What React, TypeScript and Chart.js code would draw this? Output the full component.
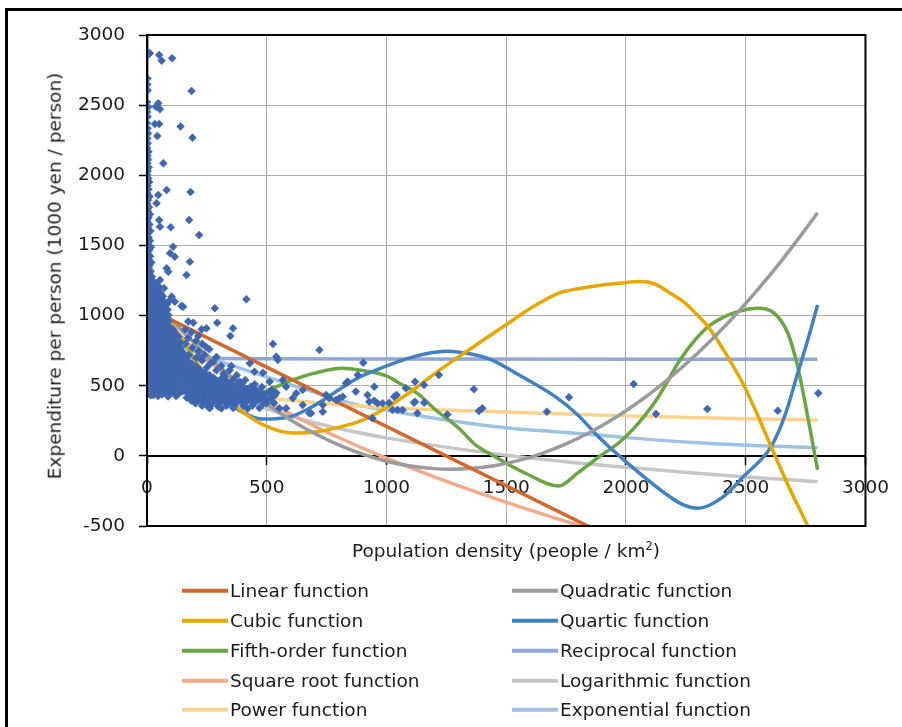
import React, { useEffect, useRef } from 'react';
import { Chart, registerables } from 'chart.js';

Chart.register(...registerables);

type Pt = [number, number];

// ---- axes -------------------------------------------------------------
const X_MIN = 0;
const X_MAX = 3000;
const X_STEP = 500;
const Y_MIN = -500;
const Y_MAX = 3000;
const Y_STEP = 500;

// ---- municipalities: [population density, expenditure per person] ----
const sparseColumn: Pt[] = [
  [0, 2881], [4, 2858], [2, 2690], [1, 2648], [3, 2605], [0, 2522], [5, 2487], [1, 2452], [3, 2418],
  [0, 2372], [2, 2335], [4, 2298], [1, 2262], [3, 2228], [0, 2195], [6, 2168], [2, 2140], [4, 2112],
  [1, 2085], [7, 2058], [3, 2030], [0, 2004], [5, 1978], [9, 1952], [2, 1926], [6, 1900], [1, 1874],
  [10, 1848], [4, 1822], [0, 1797], [8, 1772], [3, 1747], [12, 1722], [6, 1698], [1, 1674], [10, 1650],
  [4, 1626], [14, 1602], [0, 1579], [7, 1556], [12, 1533], [3, 1510], [16, 1488], [9, 1466], [1, 1444],
  [13, 1422], [5, 1400], [18, 1379], [10, 1358], [2, 1337], [15, 1316], [7, 1296], [20, 1276], [0, 1256],
  [12, 1236], [4, 1216], [17, 1197], [9, 1178], [22, 1159], [2, 1140], [14, 1121], [6, 1102], [19, 1084],
  [11, 1066], [0, 1048], [16, 1030], [4, 1012], [21, 995], [8, 978], [13, 961], [1, 944], [18, 927],
  [6, 910], [11, 893], [22, 876], [3, 859], [15, 842], [9, 826], [20, 810], [0, 794], [12, 778],
  [5, 762], [17, 746], [8, 730], [22, 714], [2, 698], [14, 682], [10, 666], [19, 650], [4, 634],
  [12, 618], [7, 602], [21, 586], [1, 570], [15, 554], [9, 538], [18, 522], [3, 506], [12, 490],
  [6, 474], [20, 458], [10, 442], [1, 450], [15, 432],
];

const lowDensity: Pt[] = [
  [28, 1241], [40, 1219], [30, 1199], [52, 1202], [42, 1181], [27, 1161], [56, 1158], [40, 1141],
  [66, 1138], [29, 1121], [54, 1118], [42, 1099], [70, 1102], [28, 1081], [56, 1079], [84, 1082],
  [43, 1061], [71, 1058], [27, 1041], [57, 1039], [86, 1042], [42, 1021], [72, 1018], [28, 1001],
  [58, 998], [89, 1002], [44, 979], [74, 982], [29, 961], [60, 958], [91, 962], [45, 941],
  [77, 938], [28, 921], [61, 918], [92, 922], [44, 901], [76, 898], [108, 902],
  [28, 881], [62, 878], [97, 882], [116, 879], [45, 861], [80, 858], [113, 862], [131, 849],
  [29, 841], [63, 838], [96, 842], [124, 833], [46, 821], [79, 818], [114, 822], [136, 812],
  [28, 801], [62, 798], [97, 802], [131, 799], [45, 781], [80, 778], [113, 782], [140, 770],
  [29, 761], [63, 758], [96, 762], [130, 759], [46, 741], [79, 738], [114, 742], [146, 739],
  [28, 721], [62, 718], [97, 722], [131, 719], [45, 701], [80, 698], [113, 702], [147, 699],
  [29, 681], [63, 678], [96, 682], [130, 679], [46, 661], [79, 658], [114, 662], [146, 659],
  [28, 641], [62, 638], [97, 642], [131, 639], [45, 621], [80, 618], [113, 622], [147, 619],
  [29, 601], [63, 598], [96, 602], [130, 599], [46, 581], [79, 578], [114, 582], [146, 579],
  [28, 561], [62, 558], [97, 562], [131, 559], [45, 541], [80, 538], [113, 542], [147, 539],
  [29, 521], [63, 518], [96, 522], [130, 519], [46, 501], [79, 498], [114, 502], [146, 499],
  [28, 481], [62, 478], [97, 482], [131, 479], [45, 461], [80, 458], [113, 462], [147, 459],
  [29, 441], [63, 438], [96, 442], [130, 439], [46, 426], [88, 424], [121, 427],
];

const midDensity: Pt[] = [
  [150, 735], [168, 715], [152, 695], [170, 675], [155, 655], [188, 657], [172, 635], [205, 637],
  [156, 615], [190, 617], [222, 613], [174, 595], [208, 597], [240, 593], [158, 575], [192, 577],
  [226, 573], [260, 576], [176, 555], [210, 557], [244, 553], [278, 556], [312, 554], [160, 535],
  [194, 537], [228, 533], [262, 536], [296, 534], [330, 537], [178, 515], [212, 517], [246, 513],
  [280, 516], [314, 514], [348, 517], [382, 513], [162, 495], [196, 497], [230, 493], [264, 496],
  [298, 494], [332, 497], [366, 493], [400, 496], [434, 494], [180, 475], [214, 477], [248, 473],
  [282, 476], [316, 474], [350, 477], [384, 473], [418, 476], [452, 474], [164, 455], [198, 457],
  [232, 453], [266, 456], [300, 454], [334, 457], [368, 453], [402, 456], [436, 454], [472, 457],
  [510, 453], [182, 435], [216, 437], [250, 433], [284, 436], [318, 434], [352, 437], [386, 433],
  [420, 436], [456, 434], [494, 437], [535, 433], [166, 415], [200, 417], [234, 413], [268, 416],
  [302, 414], [336, 417], [370, 413], [404, 416], [440, 414], [478, 417], [518, 413], [184, 395],
  [218, 397], [252, 393], [286, 396], [320, 394], [354, 397], [388, 393], [424, 396], [462, 394],
  [500, 397], [202, 375], [236, 377], [270, 373], [304, 376], [338, 374], [372, 377], [408, 373],
  [446, 376], [486, 374], [530, 377], [230, 358], [264, 356], [298, 359], [332, 357], [366, 360],
  [402, 356], [440, 359], [262, 340], [310, 338], [360, 342], [420, 336], [470, 341], [553, 339],
];

const midScatter: Pt[] = [
  [160, 900], [185, 880], [172, 840], [205, 820], [160, 800], [230, 800], [190, 770], [215, 745],
  [260, 760], [175, 720], [240, 720], [205, 700], [290, 705], [230, 680], [265, 660], [310, 640],
  [250, 630], [290, 610], [345, 610], [320, 585], [375, 575], [360, 545], [410, 540], [395, 515],
  [450, 510], [480, 490], [520, 470], [540, 450],
];

const highSpending: Pt[] = [
  [12, 2870], [51, 2857], [61, 2817], [105, 2834], [186, 2601], [47, 2513], [54, 2470], [37, 2489],
  [33, 2366], [51, 2366], [140, 2347], [43, 2280], [190, 2268], [68, 2085], [82, 1895], [47, 1860],
  [182, 1881], [40, 1800], [51, 1681], [176, 1681], [54, 1634], [99, 1629], [218, 1574], [109, 1491],
  [96, 1444], [116, 1420], [179, 1384], [82, 1337], [89, 1313], [165, 1289], [54, 1254], [71, 1195],
  [103, 1135], [96, 1111], [116, 1099], [144, 1068], [151, 1063], [415, 1116], [283, 1052], [172, 957],
  [193, 949], [293, 949], [228, 902], [248, 909], [359, 909], [348, 855], [214, 855], [526, 798],
  [246, 778],
];

const scatteredMid: Pt[] = [
  [540, 707], [546, 684], [720, 755], [221, 696], [352, 641], [429, 660], [276, 671], [449, 600],
  [484, 593], [325, 565], [903, 664], [387, 529], [512, 529], [567, 541], [581, 493], [650, 470],
  [748, 434], [803, 411], [838, 529], [880, 577], [872, 458], [921, 434], [941, 268], [949, 393],
  [678, 304], [734, 315], [790, 398], [623, 446], [498, 375], [332, 398], [255, 351], [297, 351],
  [831, 517], [949, 493], [928, 386], [817, 422], [761, 411], [734, 363], [685, 304], [650, 363],
  [609, 411], [581, 339], [26, 434],
];

const denseCities: Pt[] = [
  [963, 375], [984, 375], [1011, 379], [1032, 422], [1042, 434], [1025, 327], [1046, 327], [1067, 327],
  [1081, 482], [1119, 529], [1157, 505], [1219, 577], [1115, 379], [1157, 379], [1129, 304], [1119, 386],
  [1254, 295], [1365, 475], [1386, 320], [1400, 339], [1670, 315], [1762, 418], [2032, 512], [2125, 299],
  [2340, 334], [2634, 322], [2803, 446],
];

// ---- fitted trend curves, sampled along x ------------------------------
const linearFit: Pt[] = [[1, 1054], [2800, -1311]];

const quadraticFit: Pt[] = [
  [1, 1164], [100, 974], [200, 799], [300, 640], [400, 496], [500, 368], [600, 256], [700, 159],
  [800, 78], [900, 12], [1000, -38], [1100, -72], [1200, -91], [1270, -95], [1350, -90], [1450, -70],
  [1550, -34], [1650, 18], [1750, 85], [1850, 168], [1950, 266], [2050, 380], [2150, 510], [2250, 655],
  [2350, 816], [2450, 992], [2550, 1185], [2650, 1392], [2750, 1616], [2800, 1733],
];

const cubicFit: Pt[] = [
  [1, 1180], [80, 980], [150, 820], [250, 560], [387, 330], [500, 210], [608, 163], [700, 170],
  [803, 205], [886, 245], [970, 315], [1100, 455], [1200, 585], [1302, 707], [1400, 820], [1500, 935],
  [1600, 1050], [1719, 1160], [1760, 1178], [1850, 1205], [1968, 1230], [2060, 1242], [2120, 1225],
  [2180, 1165], [2246, 1090], [2300, 1000], [2343, 921], [2420, 720], [2495, 493], [2550, 290],
  [2606, 66], [2680, -220], [2760, -505], [2800, -660],
];

const quarticFit: Pt[] = [
  [1, 1150], [100, 860], [200, 620], [300, 430], [400, 310], [480, 262], [600, 280], [700, 360],
  [800, 470], [886, 560], [970, 620], [1100, 700], [1247, 745], [1372, 719], [1441, 683], [1550, 580],
  [1705, 422], [1800, 290], [1885, 137], [2024, -77], [2163, -267], [2240, -350], [2301, -374],
  [2400, -300], [2495, -140], [2606, 66], [2662, 279], [2717, 589], [2759, 826], [2800, 1076],
];

const fifthOrderFit: Pt[] = [
  [1, 1380], [54, 1110], [100, 900], [151, 710], [220, 520], [290, 400], [360, 380], [450, 430],
  [540, 493], [608, 541], [700, 590], [817, 624], [886, 612], [1000, 570], [1067, 505], [1129, 446],
  [1206, 327], [1302, 197], [1372, 78], [1441, 6], [1580, -124], [1719, -215], [1800, -120],
  [1885, -10], [1968, 90], [2024, 180], [2080, 290], [2135, 420], [2232, 700], [2343, 921],
  [2468, 1028], [2551, 1052], [2620, 1016], [2676, 874], [2717, 636], [2759, 279], [2800, -100],
];

const reciprocalFit: Pt[] = [
  [0.5, 4300], [1, 2500], [2, 1590], [5, 1050], [10, 870], [20, 780], [50, 724], [100, 706],
  [200, 697], [500, 692], [1000, 690], [2800, 688],
];

const squareRootFit: Pt[] = [
  [0.5, 1350], [2, 1319], [5, 1282], [10, 1241], [25, 1160], [50, 1068], [100, 939], [150, 840],
  [200, 756], [300, 615], [400, 497], [500, 393], [650, 254], [800, 131], [1000, -17], [1200, -150],
  [1400, -273], [1600, -387], [1800, -494], [2000, -596],
];

const logarithmicFit: Pt[] = [
  [0.5, 2431], [1, 2221], [2, 2011], [5, 1733], [10, 1523], [20, 1313], [50, 1036], [100, 826],
  [200, 615], [400, 405], [700, 236], [1000, 128], [1500, 5], [2000, -82], [2500, -150], [2800, -184],
];

const powerFit: Pt[] = [
  [0.5, 3050], [1, 2500], [2, 2045], [5, 1580], [10, 1290], [20, 1055], [50, 815], [100, 665],
  [200, 545], [400, 445], [700, 380], [1053, 339], [1500, 312], [2000, 285], [2500, 265], [2800, 256],
];

const exponentialFit: Pt[] = [
  [0.5, 860], [150, 770], [345, 650], [595, 510], [886, 360], [1053, 311], [1200, 268], [1497, 200],
  [1719, 170], [1885, 149], [2000, 130], [2301, 94], [2600, 70], [2800, 58],
];

const POINT_COLOR = '#3F67AF';
const GRID_COLOR = '#AEAEAE';
const TEXT_COLOR = '#1c1c1c';
const FONT = '"DejaVu Sans", "Liberation Sans", sans-serif';

const trends = [
  { label: 'Linear function', color: '#D2682D', data: linearFit },
  { label: 'Quadratic function', color: '#9B9B9B', data: quadraticFit },
  { label: 'Cubic function', color: '#E5A700', data: cubicFit },
  { label: 'Quartic function', color: '#4382C2', data: quarticFit },
  { label: 'Fifth-order function', color: '#6BA545', data: fifthOrderFit },
  { label: 'Reciprocal function', color: '#8FA7DA', data: reciprocalFit },
  { label: 'Square root function', color: '#F2AA8B', data: squareRootFit },
  { label: 'Logarithmic function', color: '#C6C6C6', data: logarithmicFit },
  { label: 'Power function', color: '#FFD28C', data: powerFit },
  { label: 'Exponential function', color: '#9EC2E6', data: exponentialFit },
];

const toXY = (pts: Pt[]) => pts.map(([x, y]) => ({ x, y }));

// black frame around the plotting area
const plotFrame = {
  id: 'plotFrame',
  afterDraw(chart: any) {
    const { ctx, chartArea: a } = chart;
    ctx.save();
    ctx.strokeStyle = '#000';
    ctx.lineWidth = 2;
    ctx.strokeRect(a.left, a.top, a.right - a.left, a.bottom - a.top);
    ctx.restore();
  },
};

export default function App() {
  const canvasRef = useRef<HTMLCanvasElement | null>(null);

  useEffect(() => {
    if (!canvasRef.current) return;
    const samples = [
      ...sparseColumn, ...lowDensity, ...midDensity, ...midScatter, ...highSpending, ...scatteredMid,
      ...denseCities,
    ];
    const tickFont = { family: FONT, size: 18.5 };
    const plain = (v: any) => String(v);
    const chart = new Chart(canvasRef.current, {
      type: 'line',
      data: {
        datasets: [
          {
            label: 'Municipalities',
            data: toXY(samples),
            showLine: false,
            pointStyle: 'rectRot',
            pointRadius: 4,
            pointBackgroundColor: POINT_COLOR,
            pointBorderColor: POINT_COLOR,
            pointBorderWidth: 0.5,
            order: 0,
          } as any,
          ...trends.map((t, i) => ({
            label: t.label,
            data: toXY(t.data),
            borderColor: t.color,
            backgroundColor: t.color,
            borderWidth: 3.5,
            pointRadius: 0,
            cubicInterpolationMode: 'monotone',
            fill: false,
            order: i + 1,
          } as any)),
        ],
      },
      options: {
        responsive: false,
        animation: false,
        events: [],
        layout: { padding: { left: 0, top: 35, right: 35, bottom: 201 } },
        plugins: { legend: { display: false }, tooltip: { enabled: false } },
        scales: {
          x: {
            type: 'linear',
            min: X_MIN,
            max: X_MAX,
            position: { y: 0 } as any,
            ticks: { stepSize: X_STEP, font: tickFont, color: TEXT_COLOR, padding: 13, maxRotation: 0, callback: plain },
            grid: { color: GRID_COLOR, lineWidth: 1, tickLength: 8, tickColor: '#000', tickWidth: 1.5 },
            border: { color: '#000', width: 2 },
          },
          y: {
            type: 'linear',
            min: Y_MIN,
            max: Y_MAX,
            ticks: { stepSize: Y_STEP, font: tickFont, color: TEXT_COLOR, padding: 14, callback: plain },
            grid: { color: GRID_COLOR, lineWidth: 1, tickLength: 8, tickColor: '#000', tickWidth: 1.5 },
            border: { color: '#000', width: 2 },
            afterFit: (scale: any) => {
              scale.width = 147;
            },
          },
        },
      } as any,
      plugins: [plotFrame],
    });
    return () => chart.destroy();
  }, []);

  const rows: [typeof trends[number], typeof trends[number]][] = [];
  for (let i = 0; i < trends.length; i += 2) rows.push([trends[i], trends[i + 1]]);
  const rowTops = [591, 621, 651, 681, 710];

  const text: React.CSSProperties = {
    fontFamily: FONT,
    fontSize: '18.5px',
    color: TEXT_COLOR,
    whiteSpace: 'nowrap',
    lineHeight: 1,
  };

  return (
    <div style={{ position: 'absolute', left: 0, top: 0, width: 902, height: 727, overflow: 'hidden', background: '#fff' }}>
      <div
        style={{
          position: 'absolute', left: 5, top: 8, width: 930, height: 760,
          border: '3px solid #000', boxSizing: 'border-box',
        }}
      />
      <canvas ref={canvasRef} width={902} height={727} style={{ position: 'absolute', left: 0, top: 0, width: 902, height: 727 }} />
      <div
        style={{
          ...text, position: 'absolute', left: 55, top: 276,
          transform: 'translate(-50%, -50%) rotate(-90deg)',
        }}
      >
        Expenditure per person (1000 yen / person)
      </div>
      <div style={{ ...text, position: 'absolute', left: 506, top: 551, transform: 'translate(-50%, -50%)' }}>
        Population density (people / km<sup style={{ fontSize: '0.62em', verticalAlign: '0.55em', lineHeight: 0 }}>2</sup>)
      </div>
      {rows.map((pair, r) =>
        pair.map((t, c) => (
          <div
            key={t.label}
            style={{
              position: 'absolute', left: c === 0 ? 182 : 512, top: rowTops[r],
              transform: 'translateY(-50%)', display: 'flex', alignItems: 'center',
            }}
          >
            <div style={{ width: 46, height: 4, background: t.color, marginRight: 2 }} />
            <span style={text}>{t.label}</span>
          </div>
        )),
      )}
    </div>
  );
}
